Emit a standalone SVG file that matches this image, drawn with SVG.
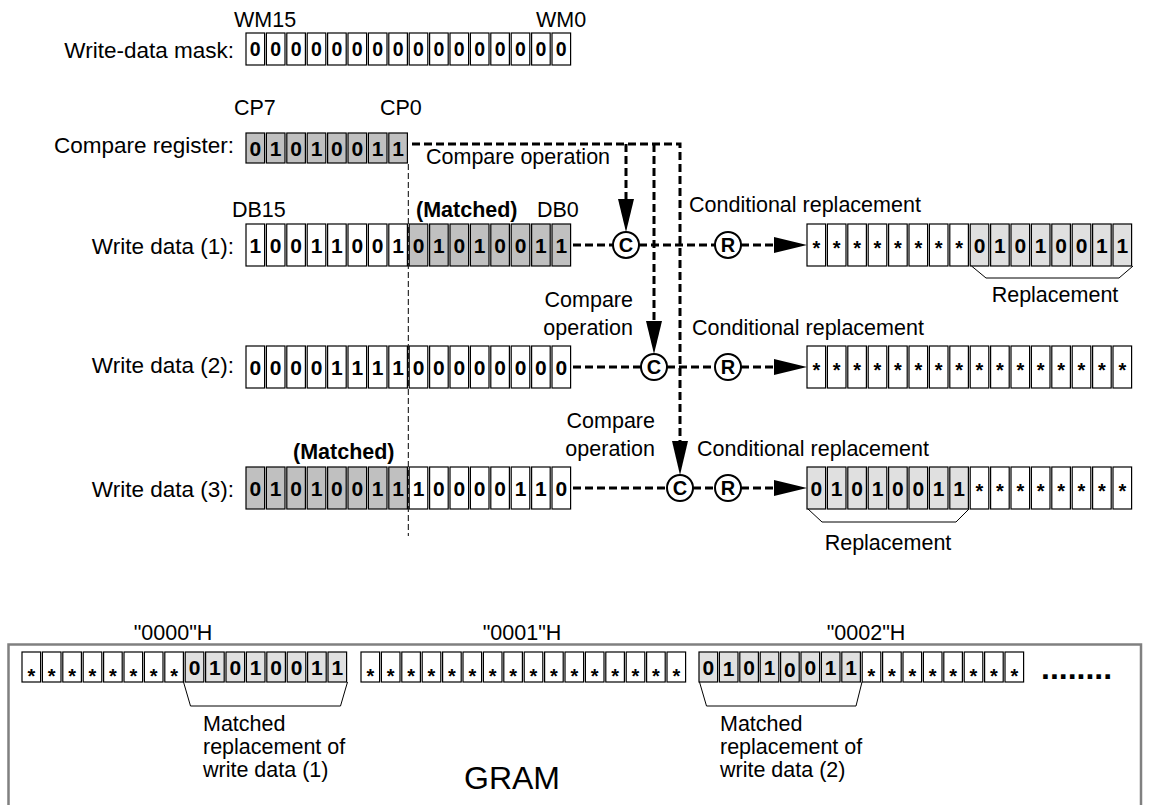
<svg xmlns="http://www.w3.org/2000/svg" width="1150" height="805" viewBox="0 0 1150 805">
<style>
.w{fill:#fff;stroke:#000;stroke-width:1.2}
.g{fill:#c0c0c0;stroke:#000;stroke-width:1.2}
.l{fill:#e0e0e0;stroke:#000;stroke-width:1.2}
text{font-family:"Liberation Sans",Arial,sans-serif;fill:#000}
.lb{font-size:21.5px}
.le{font-size:21.5px;text-anchor:end}
.ll{font-size:22.5px;text-anchor:end}
.lbb{font-size:21.5px;font-weight:bold}
.d{font-size:21px;font-weight:bold;text-anchor:middle}
.dm{font-size:19.5px;font-weight:bold;text-anchor:middle}
.s{font-size:20px;font-weight:bold;text-anchor:middle}
.cc{font-size:20px;font-weight:bold;text-anchor:middle}
.dash{fill:none;stroke:#000;stroke-width:3;stroke-dasharray:8 4}
.thin{fill:none;stroke:#000;stroke-width:1;stroke-dasharray:6 3}
.br{fill:none;stroke:#000;stroke-width:1}
.circ{fill:#fff;stroke:#000;stroke-width:2}
</style>
<defs>
<g id="w16m">
<rect class="w" x="0" width="18.6" height="32"/><rect class="w" x="20.4" width="18.6" height="32"/><rect class="w" x="40.8" width="18.6" height="32"/><rect class="w" x="61.2" width="18.6" height="32"/><rect class="w" x="81.6" width="18.6" height="32"/><rect class="w" x="102" width="18.6" height="32"/><rect class="w" x="122.4" width="18.6" height="32"/><rect class="w" x="142.8" width="18.6" height="32"/><rect class="w" x="163.2" width="18.6" height="32"/><rect class="w" x="183.6" width="18.6" height="32"/><rect class="w" x="204" width="18.6" height="32"/><rect class="w" x="224.4" width="18.6" height="32"/><rect class="w" x="244.8" width="18.6" height="32"/><rect class="w" x="265.2" width="18.6" height="32"/><rect class="w" x="285.6" width="18.6" height="32"/><rect class="w" x="306" width="18.6" height="32"/>
</g>
<g id="w8r"><rect class="w" x="0" width="18.6" height="42"/><rect class="w" x="20.4" width="18.6" height="42"/><rect class="w" x="40.8" width="18.6" height="42"/><rect class="w" x="61.2" width="18.6" height="42"/><rect class="w" x="81.6" width="18.6" height="42"/><rect class="w" x="102" width="18.6" height="42"/><rect class="w" x="122.4" width="18.6" height="42"/><rect class="w" x="142.8" width="18.6" height="42"/></g>
<g id="g8r"><rect class="g" x="0" width="18.6" height="42"/><rect class="g" x="20.4" width="18.6" height="42"/><rect class="g" x="40.8" width="18.6" height="42"/><rect class="g" x="61.2" width="18.6" height="42"/><rect class="g" x="81.6" width="18.6" height="42"/><rect class="g" x="102" width="18.6" height="42"/><rect class="g" x="122.4" width="18.6" height="42"/><rect class="g" x="142.8" width="18.6" height="42"/></g>
<g id="l8r"><rect class="l" x="0" width="18.6" height="42"/><rect class="l" x="20.4" width="18.6" height="42"/><rect class="l" x="40.8" width="18.6" height="42"/><rect class="l" x="61.2" width="18.6" height="42"/><rect class="l" x="81.6" width="18.6" height="42"/><rect class="l" x="102" width="18.6" height="42"/><rect class="l" x="122.4" width="18.6" height="42"/><rect class="l" x="142.8" width="18.6" height="42"/></g>
<g id="w8g"><rect class="w" x="0" width="18.6" height="30"/><rect class="w" x="20.4" width="18.6" height="30"/><rect class="w" x="40.8" width="18.6" height="30"/><rect class="w" x="61.2" width="18.6" height="30"/><rect class="w" x="81.6" width="18.6" height="30"/><rect class="w" x="102" width="18.6" height="30"/><rect class="w" x="122.4" width="18.6" height="30"/><rect class="w" x="142.8" width="18.6" height="30"/></g>
<g id="l8g"><rect class="l" x="0" width="18.6" height="30"/><rect class="l" x="20.4" width="18.6" height="30"/><rect class="l" x="40.8" width="18.6" height="30"/><rect class="l" x="61.2" width="18.6" height="30"/><rect class="l" x="81.6" width="18.6" height="30"/><rect class="l" x="102" width="18.6" height="30"/><rect class="l" x="122.4" width="18.6" height="30"/><rect class="l" x="142.8" width="18.6" height="30"/></g>
<g id="st8r"><text class="s" x="9.3" y="30.5">*</text><text class="s" x="29.7" y="30.5">*</text><text class="s" x="50.1" y="30.5">*</text><text class="s" x="70.5" y="30.5">*</text><text class="s" x="90.9" y="30.5">*</text><text class="s" x="111.3" y="30.5">*</text><text class="s" x="131.7" y="30.5">*</text><text class="s" x="152.1" y="30.5">*</text></g>
<g id="st8g"><text class="s" x="9.3" y="31">*</text><text class="s" x="29.7" y="31">*</text><text class="s" x="50.1" y="31">*</text><text class="s" x="70.5" y="31">*</text><text class="s" x="90.9" y="31">*</text><text class="s" x="111.3" y="31">*</text><text class="s" x="131.7" y="31">*</text><text class="s" x="152.1" y="31">*</text></g>
</defs>

<!-- labels -->
<g id="labels">
<text class="lb" x="234" y="27">WM15</text>
<text class="lb" x="536" y="27">WM0</text>
<text class="ll" x="234" y="58">Write-data mask:</text>
<text class="lb" x="234" y="115">CP7</text>
<text class="lb" x="380" y="115">CP0</text>
<text class="ll" x="234" y="153">Compare register:</text>
<text class="lb" x="232" y="217">DB15</text>
<text class="lbb" x="416" y="217">(Matched)</text>
<text class="lb" x="537" y="217">DB0</text>
<text class="ll" x="234" y="254">Write data (1):</text>
<text class="ll" x="234" y="373">Write data (2):</text>
<text class="lbb" x="293" y="459">(Matched)</text>
<text class="ll" x="234" y="497">Write data (3):</text>
<text class="lb" x="426" y="164">Compare operation</text>
<text class="lb" x="689" y="212">Conditional replacement</text>
<text class="le" x="633" y="307">Compare</text>
<text class="le" x="633" y="335">operation</text>
<text class="lb" x="692" y="335">Conditional replacement</text>
<text class="le" x="655" y="428">Compare</text>
<text class="le" x="655" y="456">operation</text>
<text class="lb" x="697" y="456">Conditional replacement</text>
</g>

<line class="thin" x1="408.3" y1="164" x2="408.3" y2="536"/>

<!-- write-data mask -->
<g id="mask" transform="translate(246,33)">
<use href="#w16m"/>
<text class="dm" x="9.3" y="23">0</text><text class="dm" x="29.7" y="23">0</text><text class="dm" x="50.1" y="23">0</text><text class="dm" x="70.5" y="23">0</text><text class="dm" x="90.9" y="23">0</text><text class="dm" x="111.3" y="23">0</text><text class="dm" x="131.7" y="23">0</text><text class="dm" x="152.1" y="23">0</text><text class="dm" x="172.5" y="23">0</text><text class="dm" x="192.9" y="23">0</text><text class="dm" x="213.3" y="23">0</text><text class="dm" x="233.7" y="23">0</text><text class="dm" x="254.1" y="23">0</text><text class="dm" x="274.5" y="23">0</text><text class="dm" x="294.9" y="23">0</text><text class="dm" x="315.3" y="23">0</text>
</g>

<!-- compare register -->
<g id="compare-register" transform="translate(246,133)">
<rect class="g" x="0" width="18.6" height="30"/><rect class="g" x="20.4" width="18.6" height="30"/><rect class="g" x="40.8" width="18.6" height="30"/><rect class="g" x="61.2" width="18.6" height="30"/><rect class="g" x="81.6" width="18.6" height="30"/><rect class="g" x="102" width="18.6" height="30"/><rect class="g" x="122.4" width="18.6" height="30"/><rect class="g" x="142.8" width="18.6" height="30"/>
<text class="d" x="9.3" y="22.5">0</text><text class="d" x="29.7" y="22.5">1</text><text class="d" x="50.1" y="22.5">0</text><text class="d" x="70.5" y="22.5">1</text><text class="d" x="90.9" y="22.5">0</text><text class="d" x="111.3" y="22.5">0</text><text class="d" x="131.7" y="22.5">1</text><text class="d" x="152.1" y="22.5">1</text>
</g>

<!-- write data 1 -->
<g id="wd1" transform="translate(246,224)">
<use href="#w8r"/><use href="#g8r" x="163.2"/>
<text class="d" x="9.3" y="28.5">1</text><text class="d" x="29.7" y="28.5">0</text><text class="d" x="50.1" y="28.5">0</text><text class="d" x="70.5" y="28.5">1</text><text class="d" x="90.9" y="28.5">1</text><text class="d" x="111.3" y="28.5">0</text><text class="d" x="131.7" y="28.5">0</text><text class="d" x="152.1" y="28.5">1</text><text class="d" x="172.5" y="28.5">0</text><text class="d" x="192.9" y="28.5">1</text><text class="d" x="213.3" y="28.5">0</text><text class="d" x="233.7" y="28.5">1</text><text class="d" x="254.1" y="28.5">0</text><text class="d" x="274.5" y="28.5">0</text><text class="d" x="294.9" y="28.5">1</text><text class="d" x="315.3" y="28.5">1</text>
</g>

<!-- write data 2 -->
<g id="wd2" transform="translate(246,346)">
<use href="#w8r"/><use href="#w8r" x="163.2"/>
<text class="d" x="9.3" y="28.5">0</text><text class="d" x="29.7" y="28.5">0</text><text class="d" x="50.1" y="28.5">0</text><text class="d" x="70.5" y="28.5">0</text><text class="d" x="90.9" y="28.5">1</text><text class="d" x="111.3" y="28.5">1</text><text class="d" x="131.7" y="28.5">1</text><text class="d" x="152.1" y="28.5">1</text><text class="d" x="172.5" y="28.5">0</text><text class="d" x="192.9" y="28.5">0</text><text class="d" x="213.3" y="28.5">0</text><text class="d" x="233.7" y="28.5">0</text><text class="d" x="254.1" y="28.5">0</text><text class="d" x="274.5" y="28.5">0</text><text class="d" x="294.9" y="28.5">0</text><text class="d" x="315.3" y="28.5">0</text>
</g>

<!-- write data 3 -->
<g id="wd3" transform="translate(246,467)">
<use href="#g8r"/><use href="#w8r" x="163.2"/>
<text class="d" x="9.3" y="28.5">0</text><text class="d" x="29.7" y="28.5">1</text><text class="d" x="50.1" y="28.5">0</text><text class="d" x="70.5" y="28.5">1</text><text class="d" x="90.9" y="28.5">0</text><text class="d" x="111.3" y="28.5">0</text><text class="d" x="131.7" y="28.5">1</text><text class="d" x="152.1" y="28.5">1</text><text class="d" x="172.5" y="28.5">1</text><text class="d" x="192.9" y="28.5">0</text><text class="d" x="213.3" y="28.5">0</text><text class="d" x="233.7" y="28.5">0</text><text class="d" x="254.1" y="28.5">0</text><text class="d" x="274.5" y="28.5">1</text><text class="d" x="294.9" y="28.5">1</text><text class="d" x="315.3" y="28.5">0</text>
</g>

<!-- connectors -->
<g id="connectors">
<path class="dash" d="M412,144 H680 V441"/>
<path class="dash" d="M626,144 V199"/>
<path class="dash" d="M654,144 V321"/>
<polygon points="626,232 618,199 634,199"/>
<polygon points="654,354 646,321 662,321"/>
<polygon points="680,475 672,441 688,441"/>
<path class="dash" d="M573,245 H613 M639,245 H715 M741,245 H774"/>
<path class="dash" d="M573,367 H641 M667,367 H715 M741,367 H774"/>
<path class="dash" d="M573,488 H667 M693,488 H715 M741,488 H774"/>
<polygon points="807,245 774,237 774,253"/>
<polygon points="807,367 774,359 774,375"/>
<polygon points="807,488 774,480 774,496"/>
</g>

<!-- compare / replace circles -->
<g id="c1"><circle class="circ" cx="626" cy="245" r="13"/><text class="cc" x="626" y="252">C</text></g>
<g id="r1"><circle class="circ" cx="728" cy="245" r="13"/><text class="cc" x="728" y="252">R</text></g>
<g id="c2"><circle class="circ" cx="654" cy="367" r="13"/><text class="cc" x="654" y="374">C</text></g>
<g id="r2"><circle class="circ" cx="728" cy="367" r="13"/><text class="cc" x="728" y="374">R</text></g>
<g id="c3"><circle class="circ" cx="680" cy="488" r="13"/><text class="cc" x="680" y="495">C</text></g>
<g id="r3"><circle class="circ" cx="728" cy="488" r="13"/><text class="cc" x="728" y="495">R</text></g>

<!-- outputs -->
<g id="out1" transform="translate(807,224)">
<use href="#w8r"/><use href="#st8r"/><use href="#l8r" x="163.2"/>
<text class="d" x="172.5" y="28.5">0</text><text class="d" x="192.9" y="28.5">1</text><text class="d" x="213.3" y="28.5">0</text><text class="d" x="233.7" y="28.5">1</text><text class="d" x="254.1" y="28.5">0</text><text class="d" x="274.5" y="28.5">0</text><text class="d" x="294.9" y="28.5">1</text><text class="d" x="315.3" y="28.5">1</text>
<polyline class="br" points="164.5,42 179,54 312,54 326,42"/>
<text class="lb" x="248" y="78" text-anchor="middle">Replacement</text>
</g>
<g id="out2" transform="translate(807,346)">
<use href="#w8r"/><use href="#st8r"/><use href="#w8r" x="163.2"/><use href="#st8r" x="163.2"/>
</g>
<g id="out3" transform="translate(807,467)">
<use href="#l8r"/><use href="#w8r" x="163.2"/><use href="#st8r" x="163.2"/>
<text class="d" x="9.3" y="28.5">0</text><text class="d" x="29.7" y="28.5">1</text><text class="d" x="50.1" y="28.5">0</text><text class="d" x="70.5" y="28.5">1</text><text class="d" x="90.9" y="28.5">0</text><text class="d" x="111.3" y="28.5">0</text><text class="d" x="131.7" y="28.5">1</text><text class="d" x="152.1" y="28.5">1</text>
<polyline class="br" points="1,42 15,55 149,55 162,42"/>
<text class="lb" x="81" y="83" text-anchor="middle">Replacement</text>
</g>

<!-- GRAM -->
<g id="gram">
<path d="M8.5,806 V644.5 H1141 V806" fill="none" stroke="#808080" stroke-width="2.5"/>
<text class="lb" x="173" y="640" text-anchor="middle">"0000"H</text>
<text class="lb" x="522" y="640" text-anchor="middle">"0001"H</text>
<text class="lb" x="866" y="640" text-anchor="middle">"0002"H</text>
<text x="512" y="789" font-size="32" text-anchor="middle">GRAM</text>
<g id="gram0" transform="translate(22,652)">
<use href="#w8g"/><use href="#st8g"/><use href="#l8g" x="163.2"/>
<text class="d" x="172.5" y="22.5">0</text><text class="d" x="192.9" y="22.5">1</text><text class="d" x="213.3" y="22.5">0</text><text class="d" x="233.7" y="22.5">1</text><text class="d" x="254.1" y="22.5">0</text><text class="d" x="274.5" y="22.5">0</text><text class="d" x="294.9" y="22.5">1</text><text class="d" x="315.3" y="22.5">1</text>
<polyline class="br" points="161.5,30 168.5,54 318.5,54 325.5,30"/>
</g>
<g id="gram1" transform="translate(361,652)">
<use href="#w8g"/><use href="#st8g"/><use href="#w8g" x="163.2"/><use href="#st8g" x="163.2"/>
</g>
<g id="gram2" transform="translate(699,652)">
<use href="#l8g"/><use href="#w8g" x="163.2"/><use href="#st8g" x="163.2"/>
<text class="d" x="9.3" y="22.5">0</text><text class="d" x="29.7" y="24">1</text><text class="d" x="50.1" y="22.5">0</text><text class="d" x="70.5" y="22.5">1</text><text class="d" x="90.9" y="25">0</text><text class="d" x="111.3" y="22.5">0</text><text class="d" x="131.7" y="22.5">1</text><text class="d" x="152.1" y="22.5">1</text>
<polyline class="br" points="0.5,30 7.5,54 157,54 163,30"/>
</g>
<text x="1041" y="679" font-size="32" font-weight="bold">........</text>
<text class="lb" x="203" y="731">Matched</text>
<text class="lb" x="203" y="754">replacement of</text>
<text class="lb" x="203" y="777">write data (1)</text>
<text class="lb" x="720" y="731">Matched</text>
<text class="lb" x="720" y="754">replacement of</text>
<text class="lb" x="720" y="777">write data (2)</text>
</g>
</svg>
